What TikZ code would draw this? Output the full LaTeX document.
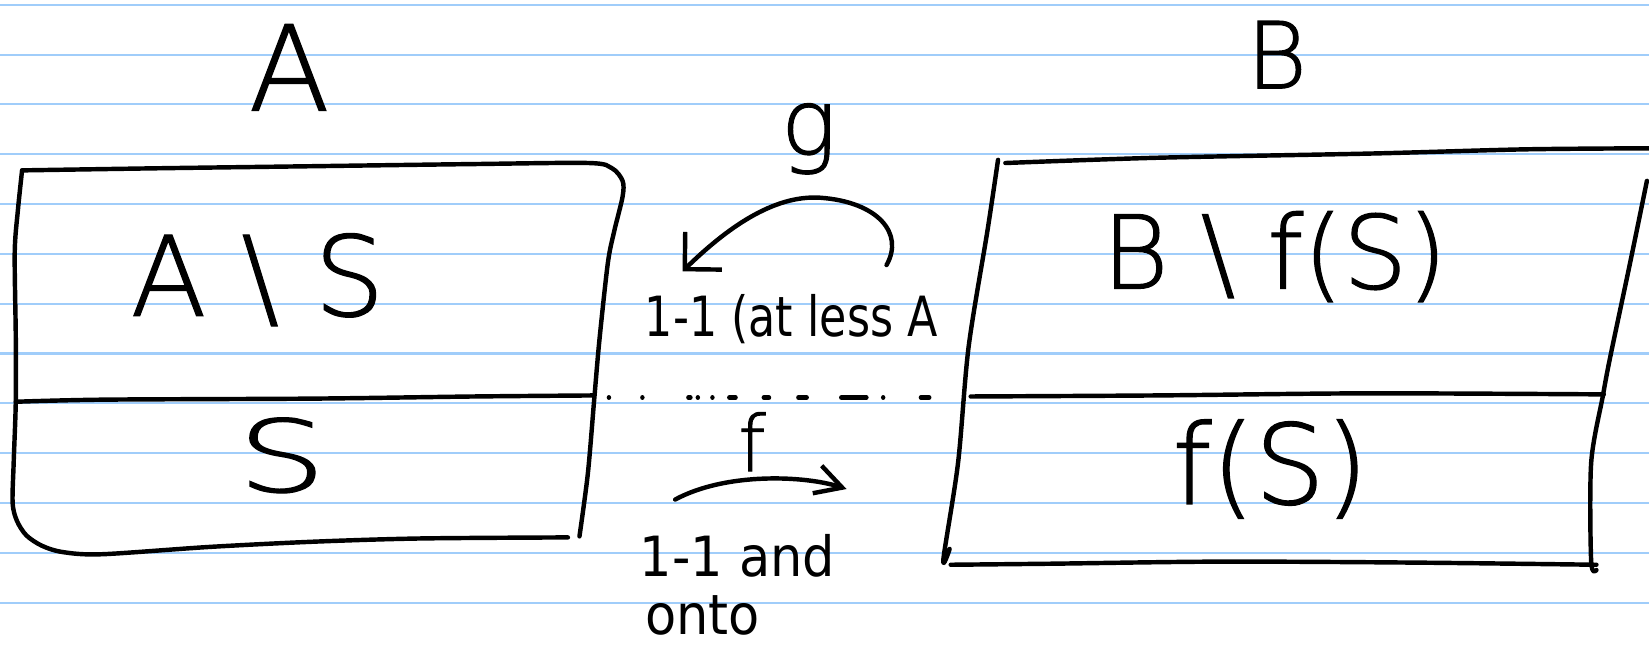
\documentclass[tikz,border=0pt]{standalone}
\usepackage{fontspec}
\setmainfont{DejaVu Sans}
\newfontfamily\thinhand[FakeBold=1.2]{DejaVu Sans ExtraLight}
\usetikzlibrary{arrows.meta}
\definecolor{ruleblue}{RGB}{160,205,250}

\begin{document}
\begin{tikzpicture}[x=0.02cm, y=-0.02cm,
  ink/.style={line width=2.4pt, line cap=round, line join=round},
  rule/.style={line width=1.1pt, draw=ruleblue},
  bigtext/.style={inner sep=0pt, font=\thinhand\fontsize{#1}{#1}\selectfont},
  smalltext/.style={inner sep=0pt, font=\fontsize{#1}{#1}\selectfont},
  gtip/.style={-{Straight Barb[length=0.5cm, width=1.0cm]}},
  ftip/.style={-{Straight Barb[length=0.5cm, width=0.55cm]}},
]
\useasboundingbox (0,0) rectangle (1568,620);

% ruled paper
\foreach \k in {0,...,12}
  \draw[rule] (0,{4.6+47.36*\k}) -- (1568,{4.6+47.36*\k});

% ---- set A ----
\node[bigtext=64] (labA) at (275,64) {A};
% top edge and right side
\draw[ink] plot[smooth, tension=0.5] coordinates {
  (21,162) (150,160) (300,158) (450,156) (560,155) (582,160) (592,172)
  (592,187) (584,220) (578,250) (570,323) (565,380) (559,450) (551,510)};
% left side and bottom
\draw[ink] plot[smooth, tension=0.5] coordinates {
  (21,162) (17,200) (14,240) (15,320) (15,382) (13,440) (12,478)
  (16,495) (25,509) (40,519) (60,525) (97,527) (200,520) (300,515)
  (400,512) (540,511)};
% dividing line
\draw[ink] plot[smooth, tension=0.5] coordinates {
  (15,382) (100,380) (300,379) (450,377) (565,376)};
\node[bigtext=60] (AminusS) at (245,266) {A \textbackslash\ S};
\node[bigtext=54, xscale=1.4] (S) at (268,433) {S};

% ---- set B ----
\node[bigtext=50] (labB) at (1214,52) {B};
% left side
\draw[ink] plot[smooth, tension=0.5] coordinates {
  (949,152) (939,219) (921,330) (911,440) (897,532) (903,522)};
% top edge
\draw[ink] plot[smooth, tension=0.5] coordinates {
  (956,155) (1100,150) (1303,146) (1450,142) (1568,141)};
% right side
\draw[ink] plot[smooth, tension=0.5] coordinates {
  (1566,172) (1550,250) (1531,340) (1524,377) (1513,440) (1513,534) (1518,542)};
% dividing line
\draw[ink] plot[smooth, tension=0.5] coordinates {
  (923,377) (1100,376) (1300,374) (1525,375)};
% bottom edge
\draw[ink] plot[smooth, tension=0.5] coordinates {
  (904,537) (1000,536) (1163,534) (1350,535) (1518,537)};
\node[bigtext=55] (BminusfS) at (1212,244) {B \textbackslash\ f(S)};
\node[bigtext=60] (fS) at (1208,446) {f(S)};

% ---- maps between the sets ----
\coordinate (sepL) at (579,378);
\coordinate (sepR) at (885,378);
\draw[ink, dash pattern=on 0.01pt off 18.1pt on 0.01pt off 24.9pt on 1.1pt off 4pt
  on 0.01pt off 7.9pt on 0.01pt off 9.1pt on 3.4pt off 15.3pt on 2.8pt off 15.9pt
  on 4.5pt off 18.7pt on 13.6pt off 9.1pt on 0.01pt off 20.4pt on 4.5pt off 50pt]
  (sepL) -- (sepR);

\node[bigtext=50] (g) at (769,132) {g};
\coordinate (gtail) at (843,252);
\coordinate (ghead) at (649,258);
\draw[ink, gtip] (gtail) .. controls (860,222) and (835,192) .. (780,188)
  .. controls (735,185) and (690,218) .. (ghead);
\node[smalltext=30, xscale=0.8, anchor=base west] (ginfo) at (613,320) {1-1 (at less A};

\node[bigtext=42] (f) at (715,420) {f};
\coordinate (ftail) at (642,475);
\coordinate (fhead) at (805,465);
\draw[ink, ftip] (ftail) .. controls (690,449) and (765,452) .. (fhead);
\node[smalltext=30, xscale=0.92, anchor=base west] (finfo) at (608,548) {1-1 and};
\node[smalltext=30, xscale=0.92, anchor=base west] (finfo2) at (613,603) {onto};
\end{tikzpicture}
\end{document}
